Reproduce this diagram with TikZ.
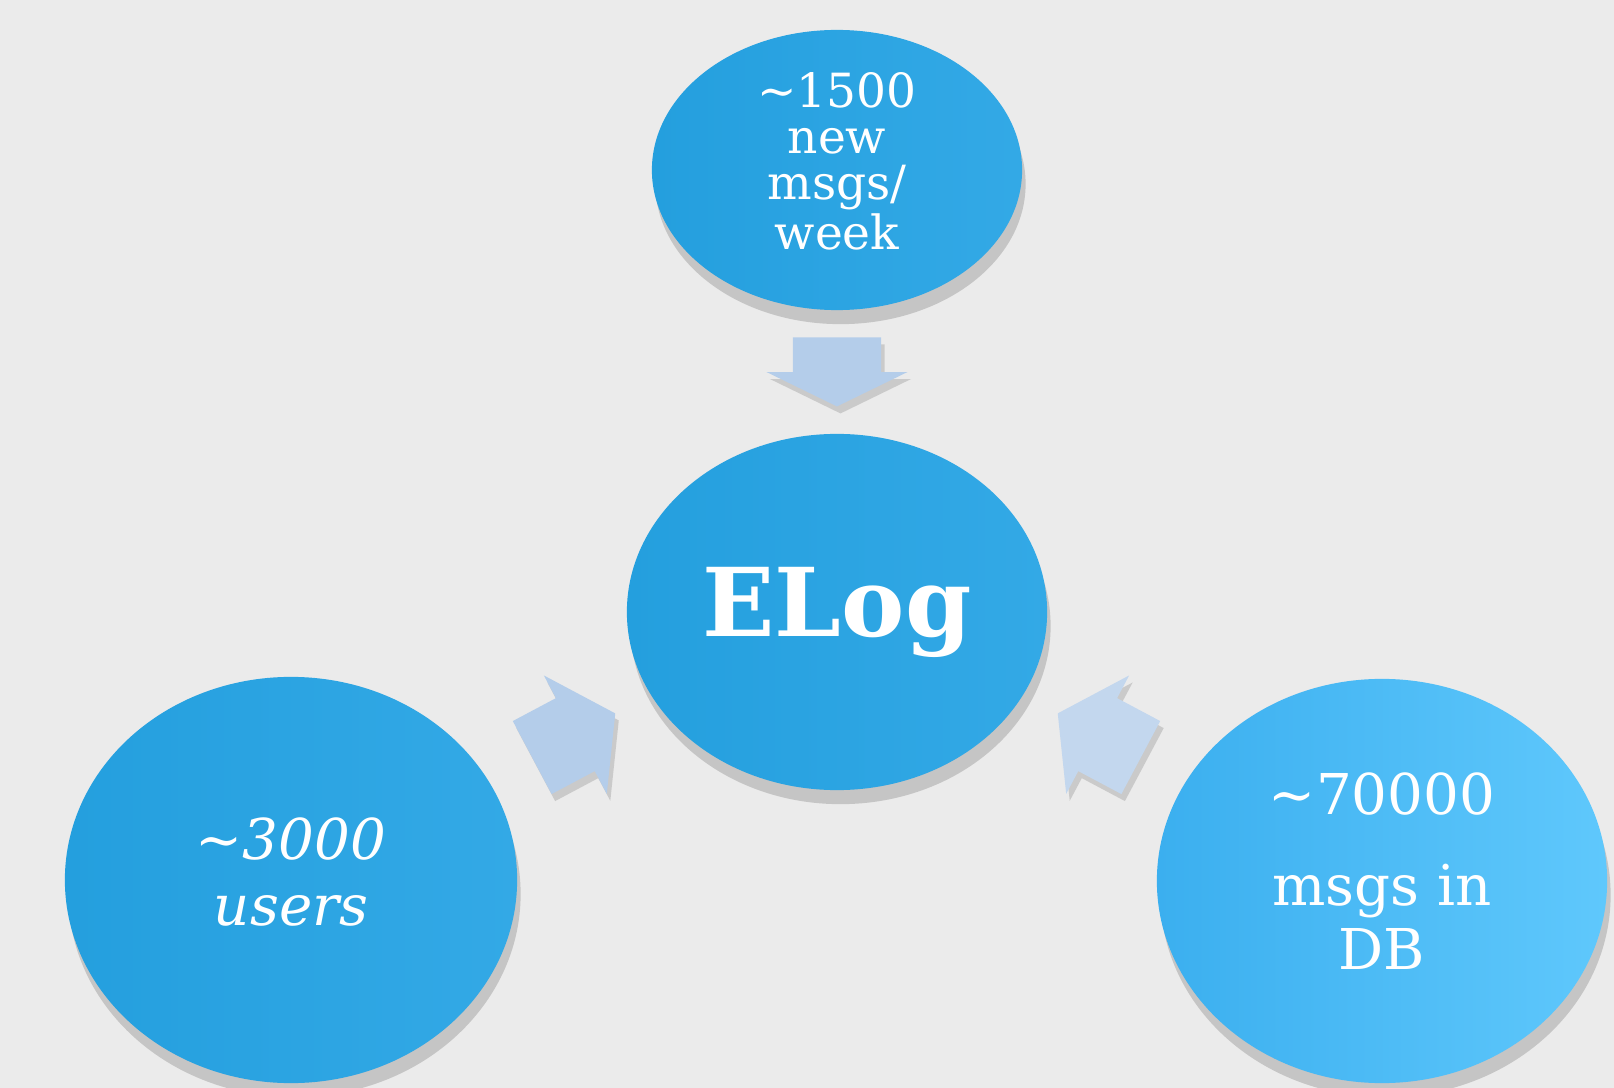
\documentclass[tikz,border=0pt]{standalone}
\usepackage{fontspec}
\setmainfont{DejaVu Serif}
\usepackage{tikz}
\usetikzlibrary{shapes.geometric,shapes.arrows,shadows,calc,positioning}

\definecolor{bgGray}{HTML}{EBEBEB}
\definecolor{bubbleBlue}{HTML}{249FDE}
\definecolor{bubbleBlueLight}{HTML}{33A9E6}
\definecolor{dbBlue}{HTML}{3BAFEF}
\definecolor{dbBlueLight}{HTML}{5FC8FC}
\definecolor{arrowBlue}{HTML}{B4CDEA}

\begin{document}
\begin{tikzpicture}[x=0.01cm, y=-0.01cm,
    bubble/.style={ellipse, inner sep=0pt, text=white, align=center,
      left color=bubbleBlue, right color=bubbleBlueLight,
      drop shadow={shadow xshift=1pt, shadow yshift=-4pt, opacity=0.35}},
    blockarrow/.style={single arrow, inner xsep=0pt, anchor=tip, fill=arrowBlue,
      drop shadow={shadow xshift=1pt, shadow yshift=-2pt, opacity=0.3}}]
  % background
  \fill[bgGray] (0,0) rectangle (1614,1088);
  \useasboundingbox (0,0) rectangle (1614,1088);

  % the four bubbles
  \node[bubble, minimum width=3.7cm, minimum height=2.8cm, text depth=0.18cm,
    font=\fontsize{13.4}{13.1}\selectfont] (newmsgs) at (837,170)
    {\textasciitilde1500\\new\\msgs/\\week};
  \node[bubble, minimum width=4.2cm, minimum height=3.56cm,
    font=\bfseries\fontsize{27}{30}\selectfont] (elog) at (837,612) {ELog};
  \node[bubble, minimum width=4.52cm, minimum height=4.06cm, text depth=0.16cm,
    font=\itshape\fontsize{16}{18.8}\selectfont] (users) at (291,880)
    {\textasciitilde3000\\users};
  \node[bubble, left color=dbBlue, right color=dbBlueLight,
    minimum width=4.5cm, minimum height=4.04cm, text depth=0.2cm,
    font=\fontsize{16}{18}\selectfont] (dbmsgs) at (1382,881)
    {\textasciitilde70000\\[8pt]msgs in\\DB};

  % block arrows into ELog
  \node[blockarrow, inner ysep=0.41cm, minimum height=0.69cm, minimum width=1.41cm,
    single arrow tip angle=128, rotate=-90] (arrTop) at ($(elog.north)+(0,-26)$) {};
  \node[blockarrow, inner ysep=0.395cm, minimum height=0.94cm, minimum width=1.34cm,
    single arrow tip angle=112, rotate=28] (arrLeft) at (616,713) {};
  \node[blockarrow, fill=arrowBlue!80!white, inner ysep=0.395cm,
    minimum height=0.94cm, minimum width=1.34cm,
    single arrow tip angle=112, rotate=152] (arrRight) at (1057,713) {};
\end{tikzpicture}
\end{document}
